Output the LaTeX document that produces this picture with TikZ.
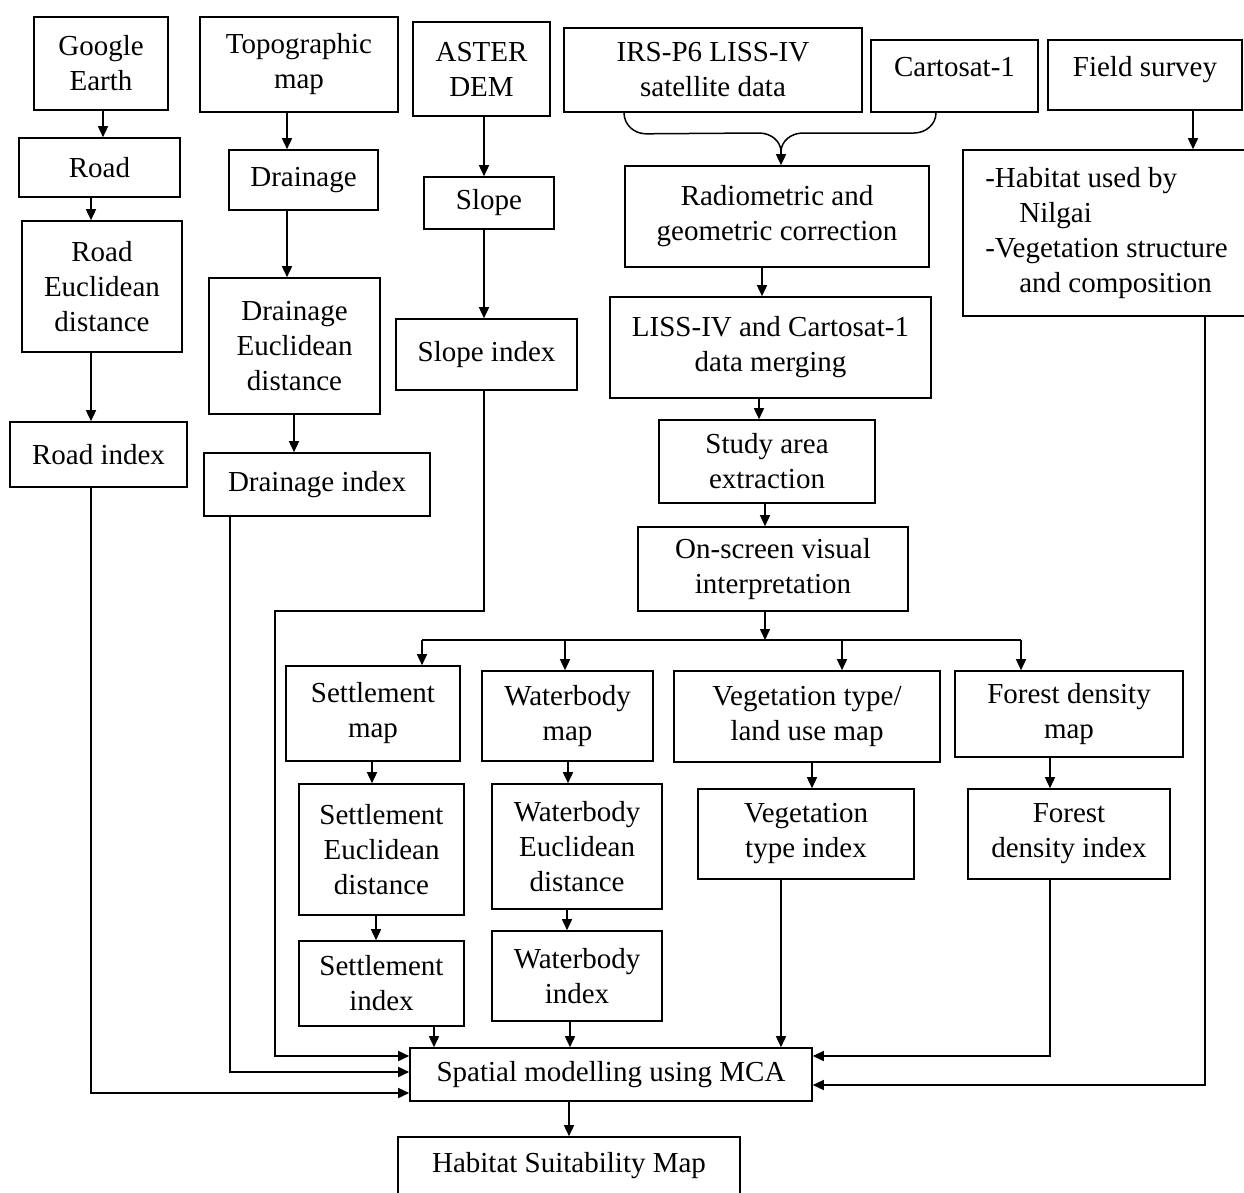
\documentclass[tikz,border=0pt]{standalone}
\usepackage{fontspec}
\setmainfont{Liberation Serif}
\usetikzlibrary{arrows.meta,calc}
\newcommand\bx[7][]{\node[box,#1,minimum width={(#5-#3)*1pt},minimum height={(#6-#4)*1pt}] (#2) at ({(#3+#5)/2},{(#4+#6)/2}) {#7};}
\begin{document}
\begin{tikzpicture}[x=1pt,y=-1pt,
  box/.style={draw, line width=1.6pt, inner sep=0pt, align=center,
    font=\fontsize{29}{35}\selectfont},
  arr/.style={line width=1.5pt, -{Triangle[length=11pt,width=10pt]}},
  ln/.style={line width=1.5pt}]
\path[use as bounding box, fill=white] (0,0) rectangle (1244,1192);
% column 1
\bx{ge}{34}{17}{168}{110}{Google\\Earth}
\bx{road}{19}{138}{180}{197}{Road}
\bx{roade}{22}{221}{182}{352}{Road\\Euclidean\\distance}
\bx{roadi}{10}{422}{187}{487}{Road index}
% column 2
\bx{topo}{200}{17}{398}{112}{Topographic\\map}
\bx{drain}{229}{150}{378}{210}{Drainage}
\bx{draine}{209}{278}{380}{414}{Drainage\\Euclidean\\distance}
\bx{draini}{204}{453}{430}{516}{Drainage index}
% column 3
\bx{aster}{413}{22}{550}{116}{ASTER\\DEM}
\bx{slope}{424}{177}{554}{229}{Slope}
\bx{slopei}{396}{319}{577}{390}{Slope index}
% centre column
\bx{irs}{564}{28}{862}{112}{IRS-P6 LISS-IV\\satellite data}
\bx[text depth=18pt]{carto}{871}{40}{1038}{112}{Cartosat-1}
\bx[text depth=18pt]{field}{1048}{40}{1242}{110}{Field survey}
\bx{radio}{625}{166}{929}{267}{Radiometric and\\geometric correction}
\bx{merge}{610}{297}{931}{398}{LISS-IV and Cartosat-1\\data merging}
\bx{study}{659}{420}{875}{503}{Study area\\extraction}
\bx{onscr}{638}{527}{908}{611}{On-screen visual\\interpretation}
\bx[align=left,xshift=-12pt]{hab}{975}{150}{1262}{316}{-Habitat used by\\\hspace*{34pt}Nilgai\\-Vegetation structure\\\hspace*{34pt}and composition}
% lower row
\bx{settm}{286}{666}{460}{761}{Settlement\\map}
\bx{waterm}{482}{671}{653}{761}{Waterbody\\map}
\bx{vegm}{674}{671}{940}{762}{Vegetation type/\\land use map}
\bx{forestm}{955}{671}{1183}{757}{Forest density\\map}
\bx{sette}{299}{784}{464}{915}{Settlement\\Euclidean\\distance}
\bx{watere}{492}{784}{662}{909}{Waterbody\\Euclidean\\distance}
\bx{vegi}{698}{789}{914}{879}{Vegetation\\type index}
\bx{foresti}{968}{789}{1170}{879}{Forest\\density index}
\bx{setti}{299}{941}{464}{1026}{Settlement\\index}
\bx{wateri}{492}{931}{662}{1021}{Waterbody\\index}
\bx{sp}{410}{1048}{812}{1101}{Spatial modelling using MCA}
\bx{hsm}{398}{1137}{740}{1194}{Habitat Suitability Map}
% coordinates
\coordinate (b1) at (275,611);
\coordinate (tip) at (781,152);
\coordinate (bus) at (765,640);
\coordinate (busL) at (422,640);
\coordinate (busR) at (1021,640);
% column 1 connectors
\draw[arr] ([xshift=2pt]ge.south) -- ([xshift=2pt]ge.south |- road.north);
\draw[arr] ([xshift=-8.5pt]road.south) -- ([xshift=-8.5pt]road.south |- roade.north);
\draw[arr] ([xshift=-11pt]roade.south) -- ([xshift=-11pt]roade.south |- roadi.north);
\draw[arr] ([xshift=-7.5pt]roadi.south) |- ([yshift=-18.5pt]sp.west);
% column 2
\draw[arr] ([xshift=-12pt]topo.south) -- ([xshift=-12pt]topo.south |- drain.north);
\draw[arr] ([xshift=-16.5pt]drain.south) -- ([xshift=-16.5pt]drain.south |- draine.north);
\draw[arr] ([xshift=-0.5pt]draine.south) -- ([xshift=-0.5pt]draine.south |- draini.north);
\draw[arr] ([xshift=-87pt]draini.south) |- ([yshift=2.5pt]sp.west);
% column 3
\draw[arr] ([xshift=2.5pt]aster.south) -- ([xshift=2.5pt]aster.south |- slope.north);
\draw[arr] ([xshift=-5pt]slope.south) -- ([xshift=-5pt]slope.south |- slopei.north);
\draw[arr] ([xshift=-2.5pt]slopei.south) |- (b1) |- ([yshift=18.5pt]sp.west);
% brace
\draw[ln] ([xshift=-89pt]irs.south) to[out=-90,in=180] ++(22,21) -- (759,133)
  to[out=0,in=90] (tip) to[out=90,in=180] (803,133) -- (914,133)
  to[out=0,in=-90] ([xshift=-18.5pt]carto.south);
\draw[arr] (tip) -- (tip |- radio.north);
\draw[arr] ([xshift=-15pt]radio.south) -- ([xshift=-15pt]radio.south |- merge.north);
\draw[arr] ([xshift=-11.5pt]merge.south) -- ([xshift=-11.5pt]merge.south |- study.north);
\draw[arr] ([xshift=-2pt]study.south) -- ([xshift=-2pt]study.south |- onscr.north);
\draw[arr] ([xshift=-8pt]onscr.south) -- (bus);
\draw[ln] (busL) -- (busR);
\draw[arr] (busL) -- (busL |- settm.north);
\draw[arr] ([xshift=-2.5pt]waterm.north |- bus) -- ([xshift=-2.5pt]waterm.north);
\draw[arr] ([xshift=35pt]vegm.north |- bus) -- ([xshift=35pt]vegm.north);
\draw[arr] (busR) -- (busR |- forestm.north);
% lower connectors
\draw[arr] ([xshift=-1pt]settm.south) -- ([xshift=-1pt]settm.south |- sette.north);
\draw[arr] ([xshift=-5.5pt]sette.south) -- ([xshift=-5.5pt]sette.south |- setti.north);
\draw[arr] ([xshift=52.5pt]setti.south) -- ([xshift=52.5pt]setti.south |- sp.north);
\draw[arr] ([xshift=0.5pt]waterm.south) -- ([xshift=0.5pt]waterm.south |- watere.north);
\draw[arr] ([xshift=-10pt]watere.south) -- ([xshift=-10pt]watere.south |- wateri.north);
\draw[arr] ([xshift=-7pt]wateri.south) -- ([xshift=-7pt]wateri.south |- sp.north);
\draw[arr] ([xshift=5pt]vegm.south) -- ([xshift=5pt]vegm.south |- vegi.north);
\draw[arr] ([xshift=-19pt]forestm.south) -- ([xshift=-19pt]forestm.south |- foresti.north);
\draw[arr] ([xshift=-25pt]vegi.south) -- ([xshift=-25pt]vegi.south |- sp.north);
\draw[arr] ([xshift=-19pt]foresti.south) |- ([yshift=18.5pt]sp.east);
% field survey
\draw[arr] ([xshift=48pt]field.south) -- ([xshift=48pt]field.south |- hab.north);
\draw[arr] ([xshift=98.5pt]hab.south) |- ([yshift=-10.5pt]sp.east);
% output
\draw[arr] (hsm.north |- sp.south) -- (hsm.north);
\end{tikzpicture}
\end{document}
